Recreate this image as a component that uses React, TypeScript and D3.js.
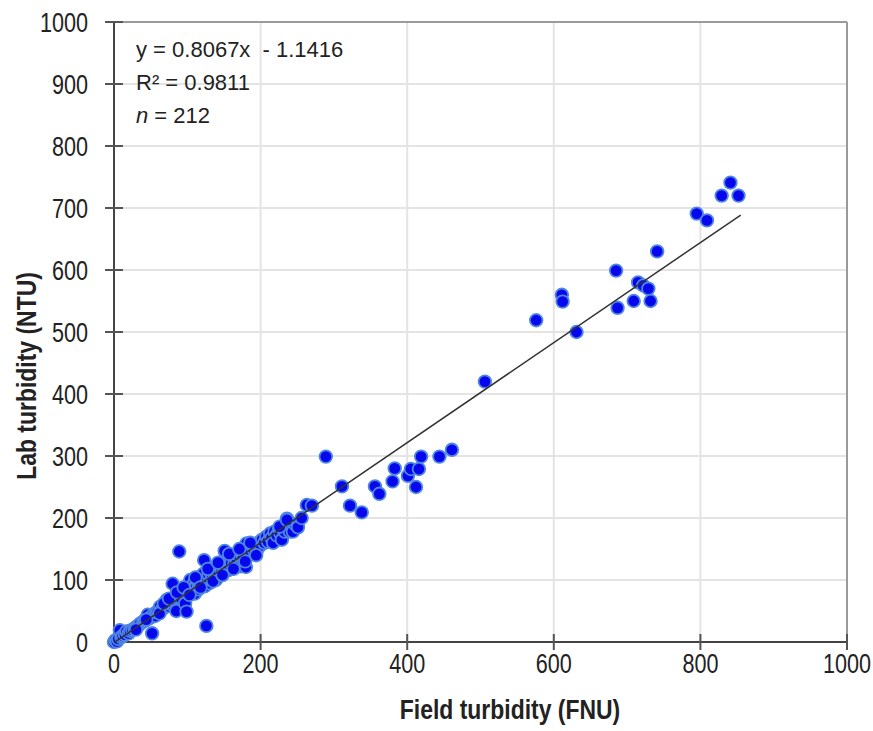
import React, { useEffect, useRef } from 'react';
import * as d3 from 'd3';

// axis ticks
const xTicks = [0, 200, 400, 600, 800, 1000];
const yTicks = [0, 100, 200, 300, 400, 500, 600, 700, 800, 900, 1000];

// regression
const slope = 0.8067;
const intercept = -1.1416;
const fitRange = [0, 855];

// field turbidity (FNU) vs lab turbidity (NTU)
const clusterPoints: [number, number][] = [
  [0, 0], [2, 3], [4, 1], [6, 5], [8, 19], [10, 8], [12, 10], [15, 12], [17, 17], [20, 14],
  [22, 18], [25, 20], [28, 22], [31, 25], [34, 27], [36, 30], [40, 33], [42, 35], [46, 44], [48, 38],
  [50, 40], [52, 14], [54, 45], [56, 42], [58, 48], [60, 50], [63, 57], [65, 52], [67, 55], [70, 60],
  [72, 68], [74, 58], [76, 62], [78, 65], [80, 94], [82, 70], [84, 66], [85, 50], [87, 72], [89, 146],
  [90, 75], [92, 70], [94, 80], [96, 78], [97, 62], [99, 49], [100, 85], [102, 90], [104, 100], [105, 82],
  [107, 88], [109, 95], [110, 78], [112, 92], [114, 98], [115, 85], [117, 105], [119, 96], [120, 100], [122, 110],
  [123, 132], [124, 90], [126, 26], [127, 102], [129, 108], [130, 95], [132, 112], [134, 104], [136, 115], [138, 120],
  [139, 100], [141, 118], [143, 110], [145, 125], [147, 115], [149, 130], [150, 120], [151, 147], [153, 128], [155, 118],
  [156, 116], [158, 135], [160, 128], [162, 140], [164, 125], [166, 138], [168, 132], [170, 140], [172, 122], [174, 145],
  [176, 135], [178, 150], [180, 121], [181, 159], [183, 140], [185, 152], [187, 145], [189, 155], [191, 148], [193, 158],
  [195, 148], [197, 160], [199, 155], [202, 165], [205, 160], [208, 170], [210, 162], [213, 175], [215, 168], [217, 160],
  [219, 178], [222, 172], [225, 182], [227, 175], [229, 165], [231, 185], [233, 178], [236, 199], [238, 190], [240, 178],
  [242, 188], [244, 178], [247, 190], [251, 185], [256, 200], [226, 186], [236, 197],
  [30, 20], [44, 36], [62, 46], [68, 62], [75, 70], [86, 80], [95, 88], [103, 76], [111, 104], [118, 88],
  [128, 118], [135, 98], [142, 128], [148, 108], [157, 142], [163, 118], [171, 150], [179, 130], [186, 160], [194, 140],
];

const upperPoints: [number, number][] = [
  [263, 221], [270, 220], [289, 299], [311, 251], [322, 220], [338, 209], [356, 251], [362, 239],
  [380, 259], [383, 280], [401, 268], [405, 279], [412, 250], [416, 279], [419, 299], [444, 299],
  [461, 310], [506, 420], [576, 519], [611, 560], [612, 549], [631, 500], [685, 599], [687, 539],
  [709, 550], [715, 580], [722, 575], [729, 570], [732, 550], [741, 630], [795, 691], [809, 680],
  [829, 720], [841, 741], [852, 720],
];

const points = [...clusterPoints, ...upperPoints];

const W = 873;
const H = 731;
const font = "'Liberation Sans', Arial, sans-serif";

export default function App() {
  const ref = useRef<SVGSVGElement>(null);

  useEffect(() => {
    const svg = d3.select(ref.current);
    svg.selectAll('*').remove();

    const x = d3.scaleLinear().domain([0, 1000]).range([114, 847]);
    const y = d3.scaleLinear().domain([0, 1000]).range([642, 22]);

    // the source text is squeezed sideways, so draw it tall and narrow
    const label = (g: any, tx: number, ty: number, str: string, size: number, anchor: string, sx: number, bold = false, rot = 0) =>
      g.append('text')
        .attr('transform', `translate(${tx},${ty}) rotate(${rot}) scale(${sx},1)`)
        .attr('text-anchor', anchor)
        .attr('font-family', font).attr('font-size', size)
        .attr('font-weight', bold ? 'bold' : 'normal')
        .attr('fill', '#222')
        .text(str);

    // gridlines
    svg.append('g')
      .selectAll('line')
      .data(xTicks.filter(t => t > 0 && t < 1000))
      .join('line')
      .attr('x1', d => x(d)).attr('x2', d => x(d))
      .attr('y1', y(0)).attr('y2', y(1000))
      .attr('stroke', '#e4e4e4').attr('stroke-width', 2);
    svg.append('g')
      .selectAll('line')
      .data(yTicks.filter(t => t > 0 && t < 1000))
      .join('line')
      .attr('x1', x(0)).attr('x2', x(1000))
      .attr('y1', d => y(d)).attr('y2', d => y(d))
      .attr('stroke', '#e4e4e4').attr('stroke-width', 2);

    // frame top/right
    svg.append('line')
      .attr('x1', x(0)).attr('x2', x(1000)).attr('y1', y(1000)).attr('y2', y(1000))
      .attr('stroke', '#9a9a9a').attr('stroke-width', 2);
    svg.append('line')
      .attr('x1', x(1000)).attr('x2', x(1000)).attr('y1', y(0)).attr('y2', y(1000))
      .attr('stroke', '#9a9a9a').attr('stroke-width', 2);

    // axes
    svg.append('line')
      .attr('x1', x(0)).attr('x2', x(0)).attr('y1', y(0)).attr('y2', y(1000))
      .attr('stroke', '#444').attr('stroke-width', 2);
    svg.append('line')
      .attr('x1', x(0)).attr('x2', x(1000)).attr('y1', y(0)).attr('y2', y(0))
      .attr('stroke', '#444').attr('stroke-width', 2);

    // cross ticks
    svg.append('g')
      .selectAll('line')
      .data(yTicks.filter(t => t > 0))
      .join('line')
      .attr('x1', x(0) - 9).attr('x2', x(0) + 9)
      .attr('y1', d => y(d)).attr('y2', d => y(d))
      .attr('stroke', '#555').attr('stroke-width', 2);
    svg.append('g')
      .selectAll('line')
      .data(xTicks.filter(t => t > 0))
      .join('line')
      .attr('x1', d => x(d)).attr('x2', d => x(d))
      .attr('y1', y(0) - 8).attr('y2', y(0) + 8)
      .attr('stroke', '#555').attr('stroke-width', 2);

    // tick labels
    const tl = svg.append('g');
    yTicks.forEach(t => label(tl, 88, y(t) + 10, String(t), 27, 'end', 0.8));
    xTicks.forEach(t => label(tl, x(t), 673, String(t), 27, 'middle', 0.8));

    // axis titles
    label(svg, 510, 719, 'Field turbidity (FNU)', 27, 'middle', 0.85, true);
    label(svg, 36, 376, 'Lab turbidity (NTU)', 27, 'middle', 0.85, true, -90);

    // points
    svg.append('g')
      .selectAll('circle')
      .data(points)
      .join('circle')
      .attr('cx', d => x(d[0])).attr('cy', d => y(d[1]))
      .attr('r', 6.3)
      .attr('fill', '#0707ee')
      .attr('stroke', '#4f86e0').attr('stroke-width', 1.8);

    // trendline
    const line = d3.line<number>().x(d => x(d)).y(d => y(slope * d + intercept));
    svg.append('path')
      .attr('d', line(fitRange))
      .attr('fill', 'none').attr('stroke', '#333').attr('stroke-width', 1.5);

    // equation
    const ann = svg.append('text')
      .attr('font-family', font).attr('font-size', 22).attr('fill', '#222')
      .style('white-space', 'pre');
    ann.append('tspan').attr('x', 136).attr('y', 57).text('y = 0.8067x  - 1.1416');
    ann.append('tspan').attr('x', 136).attr('y', 90).text('R² = 0.9811');
    const n = ann.append('tspan').attr('x', 136).attr('y', 123);
    n.append('tspan').attr('font-style', 'italic').text('n');
    n.append('tspan').text(' = 212');
  }, []);

  return (
    <svg ref={ref} width={W} height={H} style={{ position: 'absolute', left: 0, top: 0, background: '#fff' }} />
  );
}
